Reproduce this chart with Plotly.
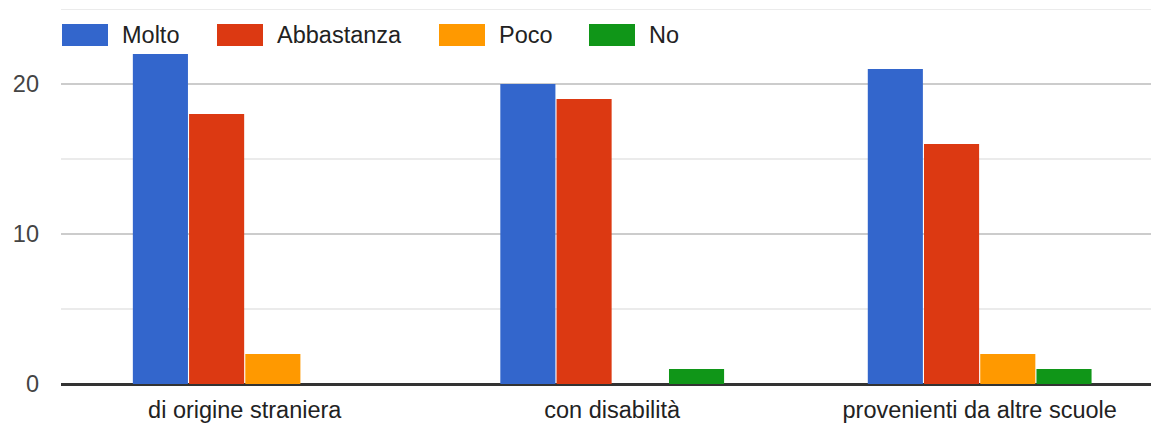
import plotly.graph_objects as go

# categories and counts
CATEGORIES = ["di origine straniera", "con disabilità", "provenienti da altre scuole"]
MOLTO = [22, 20, 21]
ABBASTANZA = [18, 19, 16]
POCO = [2, 0, 2]
NO = [0, 1, 1]

SERIES = [
    ("Molto", MOLTO, "#3366cc"),
    ("Abbastanza", ABBASTANZA, "#dc3912"),
    ("Poco", POCO, "#ff9900"),
    ("No", NO, "#109618"),
]

# the page body has the browser's default 8px margin, so the figure is
# shifted by that much; sizes below are in page pixels
PAGE_W, PAGE_H = 1159, 425
BODY = 8
W, H = PAGE_W, PAGE_H - BODY
PLOT_L, PLOT_R, PLOT_T, PLOT_B = 61, 1159, 9, 384
FONT = "Arial, Liberation Sans, sans-serif"
TEXT = "#222222"
FS = 23.5

# legend layout in page pixels: left edge of swatch for each entry
LEGEND_X = [62, 217, 439, 589]
SW_W, SW_H = 46, 22
LEGEND_Y = 35

plot_w = PLOT_R - PLOT_L
plot_h = PLOT_B - PLOT_T


def px_x(x):
    return (x - PLOT_L) / plot_w


def px_y(y):
    return 1 - (y - PLOT_T) / plot_h


fig = go.Figure()
for name, vals, color in SERIES:
    fig.add_trace(go.Bar(x=CATEGORIES, y=vals, name=name, marker_color=color,
                         marker_line_width=0, showlegend=False))

# minor gridlines at odd multiples of 5
for v in [5, 15, 25]:
    fig.add_hline(y=v, line_color="#ebebeb", line_width=2, layer="below")

shapes = []
annotations = []
for (name, _, color), lx in zip(SERIES, LEGEND_X):
    shapes.append(dict(type="rect", xref="paper", yref="paper",
                       x0=px_x(lx), x1=px_x(lx + SW_W),
                       y0=px_y(LEGEND_Y - SW_H / 2), y1=px_y(LEGEND_Y + SW_H / 2),
                       fillcolor=color, line_width=0, layer="above"))
    annotations.append(dict(text=name, xref="paper", yref="paper",
                            x=px_x(lx + SW_W + 12), y=px_y(LEGEND_Y),
                            xanchor="left", yanchor="middle", showarrow=False,
                            font=dict(family=FONT, size=FS, color=TEXT)))

fig.update_layout(
    width=W, height=H,
    margin=dict(l=PLOT_L - BODY, r=PAGE_W + BODY - PLOT_R, t=PLOT_T - BODY,
                b=PAGE_H - PLOT_B, autoexpand=False),
    paper_bgcolor="white", plot_bgcolor="white",
    barmode="group", bargap=0.388, bargroupgap=0.02,
    font=dict(family=FONT, size=FS, color=TEXT),
    shapes=fig.layout.shapes + tuple(shapes),
    annotations=annotations,
)
fig.update_xaxes(range=[-0.5, 2.488], showgrid=False, showline=False,
                 zeroline=False, ticks="", ticklabelstandoff=9, automargin=False,
                 tickfont=dict(family=FONT, size=FS, color=TEXT))
fig.update_yaxes(range=[0, 25], tickvals=[0, 10, 20], showgrid=True,
                 gridcolor="#cccccc", gridwidth=2, zeroline=True,
                 zerolinecolor="#333333", zerolinewidth=3, ticks="",
                 ticklabelstandoff=21, automargin=False,
                 tickfont=dict(family=FONT, size=FS, color="#444444"))

# no scrollbars: the figure overflows the window by the body margin
fig.write_html("out.html", post_script=(
    "document.documentElement.style.overflow='hidden';"
    "document.body.style.overflow='hidden';"))
